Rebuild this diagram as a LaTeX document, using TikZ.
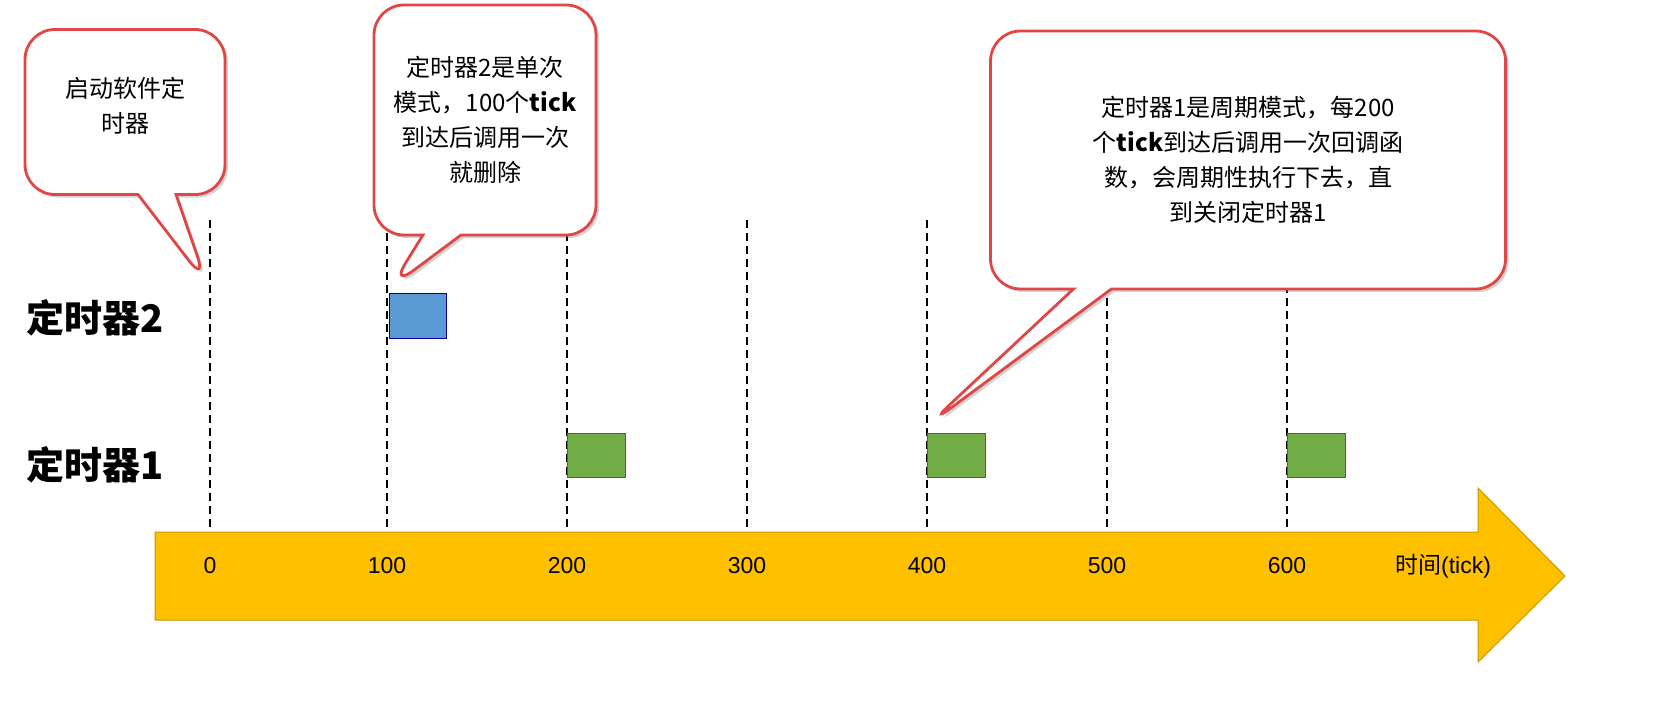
\documentclass[tikz,border=0pt]{standalone}
\usepackage{fontspec}
\setmainfont{Liberation Sans}
\newfontfamily\cjk{Noto Sans CJK SC}
\usetikzlibrary{shapes.callouts,shadows}
\begin{document}
\begin{tikzpicture}[x=1pt,y=-1pt,
  dline/.style={line width=2.4pt,dash pattern=on 8pt off 5pt},
  tlab/.style={font=\fontsize{38}{42}\selectfont\bfseries\cjk},
  num/.style={font=\fontsize{23}{26}\selectfont},
  bub/.style={rectangle callout,draw={rgb,255:red,225;green,70;blue,70},line width=2.8pt,fill=white,rounded corners=30pt,
    callout pointer width=38pt,
    drop shadow={shadow xshift=3pt,shadow yshift=-3pt,opacity=.35},align=center,
    font=\fontsize{24}{35}\selectfont\cjk,inner sep=6pt},
  blk/.style={draw=#1!60!black,line width=1pt}]
% arrow
\fill[fill={rgb,255:red,255;green,192;blue,0},draw={rgb,255:red,200;green,150;blue,0},line width=1pt]
  (155,532) -- (1478,532) -- (1478,488) -- (1565,576) -- (1478,662) -- (1478,620) -- (155,620) -- cycle;
% dashed lines
\foreach \x/\n in {210/0,387/1,567/2,747/3,927/4,1107/5,1287/6}{
  \coordinate (t\n) at (\x,220);
  \coordinate (b\n) at (\x,530);
  \draw[dline] (t\n) -- (b\n);}
\foreach \x/\v in {210/0,387/100,567/200,747/300,927/400,1107/500,1287/600}
  \node[num] (n\v) at (\x,566) {\v};
\node[font=\fontsize{23}{26}\selectfont] (unit) at (1443,566) {{\cjk 时间}(tick)};
% blocks
\node[blk=blue,fill={rgb,255:red,91;green,155;blue,213},minimum width=57pt,minimum height=45pt,inner sep=0pt,anchor=north west] (blue) at (389,293) {};
\foreach \x/\n in {567/a,927/b,1287/c}
  \node[blk=green,fill={rgb,255:red,112;green,173;blue,71},minimum width=58pt,minimum height=44pt,inner sep=0pt,anchor=north west] (g\n) at (\x,433) {};
\node[tlab] (L2) at (95,318) {定时器2};
\node[tlab] (L1) at (95,465) {定时器1};
% callouts
\node[bub,minimum width=200pt,minimum height=165pt,text width=185pt,callout absolute pointer={(207,284)}] (c1) at (125,112)
  {\raisebox{35pt}{\parbox{185pt}{\centering 启动软件定\\时器}}};
\node[bub,minimum width=222pt,minimum height=230pt,text width=205pt,callout absolute pointer={(390,288)}] (c2) at (485,120)
  {定时器2是单次\\模式，100个\textbf{tick}\\到达后调用一次\\就删除};
\node[bub,minimum width=515pt,minimum height=258pt,text width=460pt,callout absolute pointer={(928,425)}] (c3) at (1248,160)
  {\raisebox{35pt}{\parbox{460pt}{\centering 定时器1是周期模式，每200\\个\textbf{tick}到达后调用一次回调函\\数，会周期性执行下去，直\\到关闭定时器1}}};
\pgfresetboundingbox
\useasboundingbox (0,0) rectangle (1655,709);
\end{tikzpicture}
\end{document}
